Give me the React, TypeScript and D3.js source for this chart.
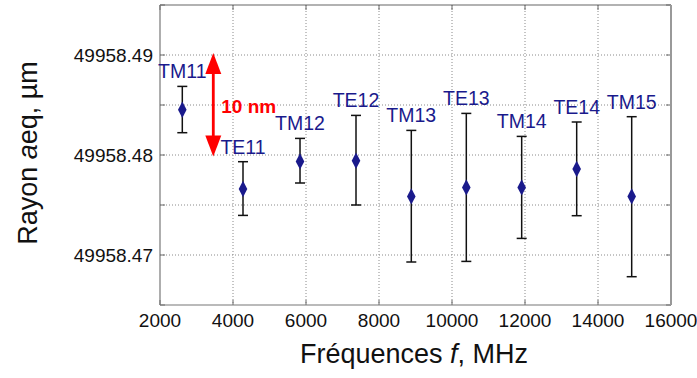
import React from "react";
import * as d3 from "d3";

const modes = ["TM11", "TE11", "TM12", "TE12", "TM13", "TE13", "TM14", "TE14", "TM15"];
const freqs = [2611, 4274, 5836, 7370, 8885, 10392, 11909, 13416, 14923];
const radius = [49958.48453, 49958.4766, 49958.47936, 49958.47943, 49958.47586, 49958.47676, 49958.47676, 49958.4786, 49958.47586];
const errHigh = [49958.48686, 49958.47933, 49958.48166, 49958.48396, 49958.48246, 49958.48416, 49958.48186, 49958.4833, 49958.48383];
const errLow = [49958.48223, 49958.47396, 49958.4772, 49958.475, 49958.4693, 49958.46936, 49958.47166, 49958.47393, 49958.46783];
const xTicks = [2000, 4000, 6000, 8000, 10000, 12000, 14000, 16000];
const yTicks = [49958.465, 49958.47, 49958.475, 49958.48, 49958.485, 49958.49, 49958.495];
const yLabels = [49958.47, 49958.48, 49958.49];
const arrowFreq = [3460];
const arrowSpan = [49958.48, 49958.49];
const arrowText = ["10 nm"];

const W = 697, H = 378;
const L = 160, R = 671, T = 5, B = 305;
const FONT = "'Liberation Sans', Arial, Helvetica, sans-serif";
const NAVY = "#1a1a8c";

export default function App() {
  const x = d3.scaleLinear().domain([2000, 16000]).range([L, R]);
  const y = d3.scaleLinear().domain([49958.465, 49958.495]).range([B, T]);
  const diamond = d3.symbol().type(d3.symbolDiamond).size(64)();
  const ax = x(arrowFreq[0]);
  const ay1 = y(arrowSpan[1]);
  const ay0 = y(arrowSpan[0]);
  const headL = 21, headW = 8;
  return (
    <svg width={W} height={H} style={{ position: "absolute", left: 0, top: 0, background: "#fff" }} fontFamily={FONT}>
      <rect x={0} y={0} width={W} height={H} fill="#fff" />
      {/* grid */}
      {xTicks.slice(1, -1).map((t) => (
        <line key={"gx" + t} x1={x(t)} x2={x(t)} y1={T} y2={B} stroke="#8a8a8a" strokeWidth={1} strokeDasharray="1,2" />
      ))}
      {yTicks.slice(1, -1).map((t) => (
        <line key={"gy" + t} x1={L} x2={R} y1={y(t)} y2={y(t)} stroke="#8a8a8a" strokeWidth={1} strokeDasharray="1,2" />
      ))}
      {/* ticks inside */}
      {xTicks.map((t) => (
        <g key={"tx" + t}>
          <line x1={x(t)} x2={x(t)} y1={B} y2={B - 5} stroke="#666" />
          <line x1={x(t)} x2={x(t)} y1={T} y2={T + 5} stroke="#666" />
        </g>
      ))}
      {yTicks.map((t) => (
        <g key={"ty" + t}>
          <line x1={L} x2={L + 5} y1={y(t)} y2={y(t)} stroke="#666" />
          <line x1={R} x2={R - 5} y1={y(t)} y2={y(t)} stroke="#666" />
        </g>
      ))}
      {/* frame */}
      <line x1={L} x2={R} y1={T} y2={T} stroke="#666" strokeWidth={1.2} />
      <line x1={L} x2={L} y1={T} y2={B} stroke="#777" strokeWidth={1.2} />
      <line x1={L} x2={R} y1={B} y2={B} stroke="#777" strokeWidth={1.2} />
      <line x1={R} x2={R} y1={T} y2={B} stroke="#999" strokeWidth={2} />
      {/* tick labels */}
      {xTicks.map((t) => (
        <text key={"lx" + t} x={x(t)} y={B + 22} fontSize={19} textAnchor="middle" fill="#111">{t}</text>
      ))}
      {yLabels.map((t) => (
        <text key={"ly" + t} x={L - 7} y={y(t) + 7} fontSize={19} textAnchor="end" fill="#111">{t.toFixed(2)}</text>
      ))}
      {/* axis titles */}
      <text x={414} y={363} fontSize={27} textAnchor="middle" fill="#111">
        Fréquences <tspan fontStyle="italic">f</tspan>, MHz
      </text>
      <text transform={`translate(37,153) rotate(-90)`} fontSize={27} textAnchor="middle" fill="#111">
        Rayon <tspan fontStyle="italic">a</tspan>eq, µm
      </text>
      {/* error bars */}
      {freqs.map((f, i) => (
        <g key={"e" + i} stroke="#111" strokeWidth={1.5}>
          <line x1={x(f)} x2={x(f)} y1={y(errLow[i])} y2={y(errHigh[i])} />
          <line x1={x(f) - 5} x2={x(f) + 5} y1={y(errLow[i])} y2={y(errLow[i])} />
          <line x1={x(f) - 5} x2={x(f) + 5} y1={y(errHigh[i])} y2={y(errHigh[i])} />
        </g>
      ))}
      {freqs.map((f, i) => (
        <path key={"m" + i} d={diamond!} transform={`translate(${x(f)},${y(radius[i])}) scale(1,1.1)`} fill={NAVY} />
      ))}
      {modes.map((m, i) => (
        <text key={"t" + i} x={x(freqs[i])} y={y(errHigh[i]) - 8} fontSize={19.5} textAnchor="middle" fill={NAVY}>{m}</text>
      ))}
      {/* red arrow */}
      <g fill="#ff0000" stroke="none">
        <rect x={ax - 1.4} y={ay1 + headL - 2} width={2.8} height={ay0 - ay1 - 2 * headL + 4} />
        <path d={`M${ax},${ay1 - 2}L${ax + headW},${ay1 - 2 + headL}L${ax - headW},${ay1 - 2 + headL}Z`} />
        <path d={`M${ax},${ay0 + 1.5}L${ax + headW},${ay0 + 1.5 - headL}L${ax - headW},${ay0 + 1.5 - headL}Z`} />
      </g>
      <text x={ax + 8} y={y(49958.4842)} fontSize={19} fontWeight="bold" fill="#ff0000">{arrowText[0]}</text>
    </svg>
  );
}
